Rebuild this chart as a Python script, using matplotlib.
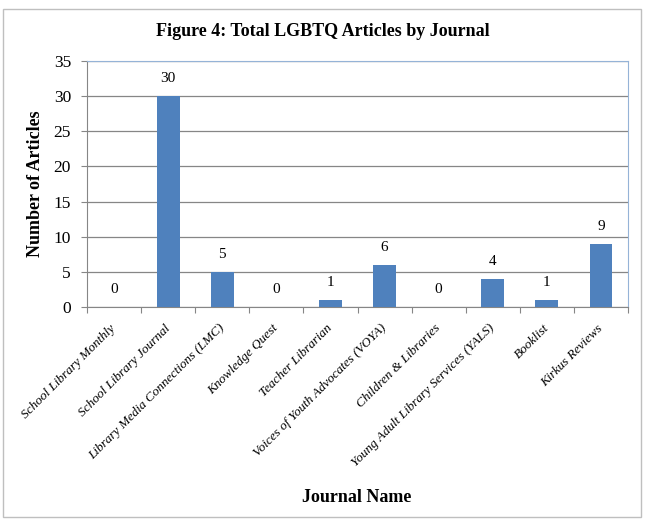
import matplotlib
matplotlib.use("Agg")
import matplotlib.pyplot as plt
from matplotlib.patches import Rectangle

journals = ["School Library Monthly", "School Library Journal",
            "Library Media Connections (LMC)", "Knowledge Quest",
            "Teacher Librarian", "Voices of Youth Advocates (VOYA)",
            "Children & Libraries", "Young Adult Library Services (YALS)",
            "Booklist", "Kirkus Reviews"]
articles = [0, 30, 5, 0, 1, 6, 0, 4, 1, 9]
yticks = [0, 5, 10, 15, 20, 25, 30, 35]

plt.rcParams['font.family'] = ['Liberation Serif', 'DejaVu Serif']

fig = plt.figure(figsize=(6.45, 5.22), dpi=100)
W, H = 645, 522
ax = fig.add_axes([87 / W, 1 - 307 / H, (628 - 87) / W, (307 - 61) / H])

x = list(range(len(journals)))
ax.bar(x, articles, width=0.42, color='#4F81BD', zorder=3)
for xi, v in zip(x, articles):
    ax.annotate(str(v), (xi, v), xytext=(0, 8), textcoords='offset points',
                ha='center', va='bottom', fontsize=11)

ax.set_xlim(-0.5, len(journals) - 0.5)
ax.set_ylim(0, 35)
ax.set_yticks(yticks)
ax.tick_params(axis='y', labelsize=12.5, length=4.5, color='#868686', pad=7)
ax.yaxis.grid(True, color='#868686', linewidth=0.9, zorder=0)
ax.set_axisbelow(True)

ax.set_xticks([i + 0.5 for i in range(-1, len(journals))], minor=False)
ax.set_xticklabels([])
ax.tick_params(axis='x', length=4.5, color='#868686', direction='out')
ax.set_xticks(x, minor=True)
ax.set_xticklabels(journals, minor=True, rotation=45, ha='right', va='center',
                   rotation_mode='anchor', fontsize=9.5, style='italic')
ax.tick_params(axis='x', which='minor', length=0, pad=14)

for s in ['top', 'right']:
    ax.spines[s].set_color('#95B3D7')
ax.spines['left'].set_color('#868686')
ax.spines['bottom'].set_color('#868686')

ax.set_ylabel('Number of Articles', fontsize=13, fontweight='bold')
ax.yaxis.set_label_coords((44 - 87) / 541, 0.5)
fig.text(323 / W, 1 - 32 / H, 'Figure 4: Total LGBTQ Articles by Journal',
         ha='center', va='center', fontsize=13, fontweight='bold')
fig.text(357 / W, 1 - 497 / H, 'Journal Name', ha='center', va='center',
         fontsize=13, fontweight='bold')

fig.patches.append(Rectangle((3 / W, 5 / H), 638 / W, 508 / H,
                             transform=fig.transFigure, fill=False,
                             edgecolor='#BFBFBF', linewidth=1))

fig.savefig('out.png', dpi=100)
